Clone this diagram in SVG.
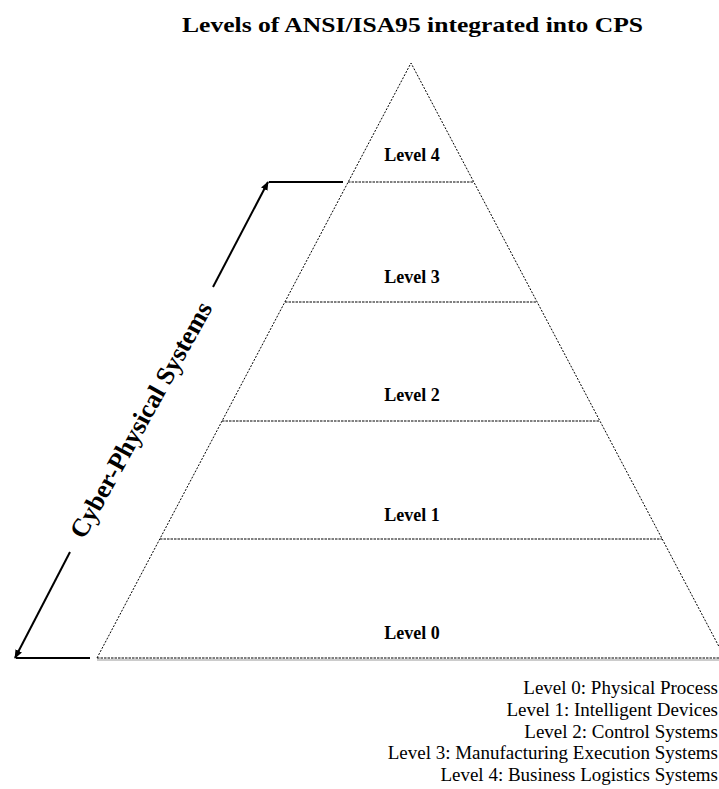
<svg xmlns="http://www.w3.org/2000/svg" width="719" height="789" viewBox="0 0 719 789">
<style>
.edge{stroke:#000;stroke-width:1;stroke-dasharray:2,1.5;fill:none}
.lvl{stroke:#000;stroke-width:1;stroke-dasharray:2.5,1;fill:none}
.lab{font-family:"Liberation Serif",serif;font-weight:bold;font-size:18px;text-anchor:middle}
.leg{font-family:"Liberation Serif",serif;font-size:19px;text-anchor:end}
.arr{stroke:#000;stroke-width:2;fill:none}
</style>
<defs>
<marker id="ah2" viewBox="0 0 10 10" refX="9" refY="5" markerWidth="9" markerHeight="9" orient="auto" markerUnits="userSpaceOnUse">
<path d="M0,1 L10,5 L0,9 z" fill="#000"/>
</marker>
</defs>
<rect width="719" height="789" fill="#fff"/>
<text x="412.5" y="32" font-family="Liberation Serif,serif" font-weight="bold" font-size="22" text-anchor="middle" textLength="461" lengthAdjust="spacingAndGlyphs">Levels of ANSI/ISA95 integrated into CPS</text>
<g id="pyramid">
<line x1="97" y1="660" x2="725" y2="660" stroke="#bbb" stroke-width="1.5"/>
<polyline class="edge" points="97,658 411,63 725,658"/>
<line class="lvl" x1="97" y1="658" x2="725" y2="658"/>
</g>
<g id="level4"><line class="lvl" x1="348" y1="182" x2="474" y2="182"/><text class="lab" x="412" y="161">Level 4</text></g>
<g id="level3"><line class="lvl" x1="285" y1="302" x2="537" y2="302"/><text class="lab" x="412" y="283">Level 3</text></g>
<g id="level2"><line class="lvl" x1="222" y1="421" x2="600" y2="421"/><text class="lab" x="412" y="401">Level 2</text></g>
<g id="level1"><line class="lvl" x1="160" y1="539" x2="662" y2="539"/><text class="lab" x="412" y="521">Level 1</text></g>
<g id="level0"><text class="lab" x="412" y="639">Level 0</text></g>
<g id="connectors">
<line class="arr" x1="343" y1="182" x2="269" y2="182"/>
<line class="arr" x1="213" y1="287" x2="268" y2="182" marker-end="url(#ah2)"/>
<line class="arr" x1="90" y1="658" x2="16" y2="658"/>
<line class="arr" x1="70" y1="552" x2="15" y2="658" marker-end="url(#ah2)"/>
</g>
<g id="cps-label">
<text transform="translate(141,420) rotate(-61)" font-family="Liberation Serif,serif" font-weight="bold" font-size="26" text-anchor="middle" dominant-baseline="central">Cyber-Physical Systems</text>
</g>
<g id="legend">
<text class="leg" x="718" y="694">Level 0: Physical Process</text>
<text class="leg" x="718" y="716">Level 1: Intelligent Devices</text>
<text class="leg" x="718" y="738">Level 2: Control Systems</text>
<text class="leg" x="718" y="759">Level 3: Manufacturing Execution Systems</text>
<text class="leg" x="718" y="781">Level 4: Business Logistics Systems</text>
</g>
</svg>
